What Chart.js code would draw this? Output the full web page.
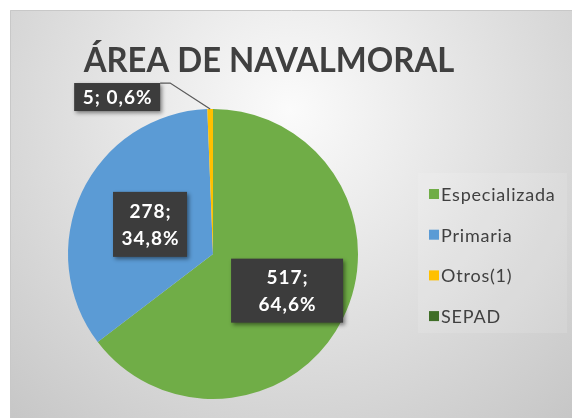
<!DOCTYPE html>
<html><head><meta charset="utf-8">
<script src="https://cdn.jsdelivr.net/npm/chart.js@4/dist/chart.umd.min.js"></script>
<style>html,body{margin:0;padding:0;background:#fff;}#wrap{width:572px;height:418px;position:relative;}</style>
</head><body><div id="wrap"><canvas id="c" width="572" height="418"></canvas></div>
<script>
const titleText = 'ÁREA DE NAVALMORAL';
const categories = ['Especializada', 'Primaria', 'Otros(1)', 'SEPAD'];
const values = [517, 278, 5, 0];
const colors = ['#70AD47', '#5B9BD5', '#FFC000', '#3F6E27'];

const total = values.reduce((a, b) => a + b, 0);
function pctText(v) { return (v / total * 100).toFixed(1).replace('.', ',') + '%'; }

// label style per slice: mode, box size, radial fraction / offset
const labelStyle = [
  { mode: 'inside', frac: 0.57, w: 112, h: 64 },
  { mode: 'inside', frac: 0.48, w: 74, h: 65 },
  { mode: 'outside', dx: -93, dy: -12, w: 86, h: 28 },
  null
];

const bgPlugin = {
  id: 'bg',
  beforeDraw(chart) {
    const ctx = chart.ctx;
    ctx.save();
    ctx.fillStyle = '#ffffff';
    ctx.fillRect(0, 0, chart.width, chart.height);
    const g = ctx.createRadialGradient(290, 110, 0, 290, 110, 420);
    g.addColorStop(0, '#fbfbfb');
    g.addColorStop(1, '#c6c6c6');
    ctx.fillStyle = g;
    ctx.fillRect(10, 10, chart.width - 10, chart.height - 10);
    ctx.strokeStyle = '#c8c8c8';
    ctx.lineWidth = 1;
    ctx.beginPath();
    ctx.moveTo(10.5, chart.height);
    ctx.lineTo(10.5, 10.5);
    ctx.lineTo(chart.width, 10.5);
    ctx.stroke();
    // title
    ctx.fillStyle = '#404040';
    ctx.font = 'bold 35px Lato';
    ctx.textAlign = 'center';
    ctx.textBaseline = 'alphabetic';
    ctx.translate(269, 72);
    ctx.scale(0.937, 1);
    ctx.fillText(titleText, 0, 0);
    ctx.restore();
  },
  afterDraw(chart) {
    const ctx = chart.ctx;
    const meta = chart.getDatasetMeta(0);
    ctx.save();
    // legend
    ctx.fillStyle = 'rgba(255,255,255,0.12)';
    ctx.fillRect(418, 173, 149, 160);
    ctx.font = '18px Lato';
    ctx.letterSpacing = '0.8px';
    ctx.textBaseline = 'middle';
    ctx.textAlign = 'left';
    categories.forEach((c, i) => {
      const y = 194 + i * 40.7;
      ctx.fillStyle = colors[i];
      ctx.fillRect(429, y - 5, 10, 10);
      ctx.fillStyle = '#404040';
      ctx.fillText(c, 441, y + 1);
    });
    // data labels
    meta.data.forEach((arc, i) => {
      const st = labelStyle[i];
      if (!st) return;
      const mid = (arc.startAngle + arc.endAngle) / 2;
      let cx, cy, lines;
      if (st.mode === 'inside') {
        const r = arc.outerRadius * st.frac;
        cx = arc.x + Math.cos(mid) * r;
        cy = arc.y + Math.sin(mid) * r;
        lines = [values[i] + ';', pctText(values[i])];
      } else {
        const ax = arc.x + Math.cos(mid) * arc.outerRadius;
        const ay = arc.y + Math.sin(mid) * arc.outerRadius;
        cx = ax + st.dx;
        cy = ay + st.dy;
        lines = [values[i] + '; ' + pctText(values[i])];
        // leader line
        const bx = cx + st.w / 2, by = cy - st.h / 2;
        ctx.strokeStyle = '#5a5a5a';
        ctx.lineWidth = 1.3;
        ctx.beginPath();
        ctx.moveTo(bx, by);
        ctx.lineTo(bx + 10, by);
        ctx.lineTo(ax, ay);
        ctx.stroke();
      }
      ctx.save();
      ctx.shadowColor = 'rgba(0,0,0,0.45)';
      ctx.shadowBlur = 4;
      ctx.shadowOffsetX = 2;
      ctx.shadowOffsetY = 2;
      ctx.fillStyle = '#3c3c3c';
      ctx.fillRect(cx - st.w / 2, cy - st.h / 2, st.w, st.h);
      ctx.restore();
      ctx.fillStyle = '#ffffff';
      ctx.font = 'bold 19px Lato';
      ctx.letterSpacing = '1px';
      ctx.textAlign = 'center';
      ctx.textBaseline = 'middle';
      const lh = 27;
      lines.forEach((t, k) => {
        ctx.fillText(t, cx + 0.5, cy + (k - (lines.length - 1) / 2) * lh + 1);
      });
    });
    ctx.restore();
  }
};

new Chart(document.getElementById('c'), {
  type: 'pie',
  data: {
    labels: categories,
    datasets: [{ data: values, backgroundColor: colors, borderWidth: 0 }]
  },
  options: {
    responsive: false,
    animation: false,
    layout: { padding: { left: 68, right: 214, top: 109, bottom: 19 } },
    plugins: { legend: { display: false }, tooltip: { enabled: false }, title: { display: false } }
  },
  plugins: [bgPlugin]
});
</script>
</body></html>
